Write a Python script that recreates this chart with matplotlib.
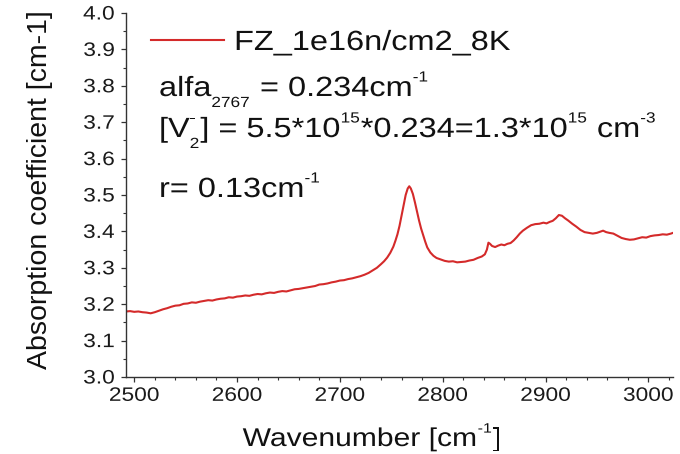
import matplotlib
matplotlib.use("Agg")
import matplotlib.pyplot as plt
import matplotlib.patheffects as pe
from matplotlib.path import Path
from matplotlib.ticker import MultipleLocator, FuncFormatter

plt.rcParams["font.family"] = ["Liberation Sans", "DejaVu Sans"]

# Spectrum: wavenumber [cm^-1] vs absorption coefficient [cm^-1]
wavenumber = [
    2492, 2496, 2500, 2504, 2508, 2512, 2516, 2520, 2524, 2528,
    2532, 2536, 2540, 2544, 2548, 2552, 2556, 2560, 2564, 2568,
    2572, 2576, 2580, 2584, 2588, 2592, 2596, 2600, 2604, 2608,
    2612, 2616, 2620, 2624, 2628, 2632, 2636, 2640, 2644, 2648,
    2652, 2656, 2660, 2664, 2668, 2672, 2676, 2680, 2684, 2688,
    2692, 2696, 2700, 2704, 2708, 2712, 2716, 2720, 2724, 2728,
    2732, 2736, 2740, 2743, 2746, 2749, 2752, 2754, 2756, 2758,
    2760, 2762, 2764, 2766, 2767.5, 2769, 2771, 2773, 2775, 2777,
    2779, 2781, 2783, 2785, 2788, 2791, 2794, 2798, 2802, 2806,
    2810, 2814, 2818, 2822, 2826, 2830, 2834, 2838, 2841, 2843,
    2844.5, 2846, 2848, 2851, 2854, 2857, 2860, 2863, 2866, 2869,
    2872, 2875, 2878, 2882, 2886, 2890, 2894, 2898, 2901, 2904,
    2907, 2910, 2913, 2916, 2919, 2922, 2926, 2930, 2934, 2938,
    2942, 2946, 2950, 2953, 2956, 2959, 2962, 2966, 2970, 2974,
    2978, 2982, 2986, 2990, 2994, 2998, 3002, 3006, 3010, 3014,
    3018, 3022, 3024,
]
absorption = [
    3.180, 3.181, 3.179, 3.180, 3.178, 3.177, 3.175, 3.178, 3.182, 3.186,
    3.189, 3.193, 3.196, 3.197, 3.201, 3.202, 3.205, 3.204, 3.207, 3.209,
    3.211, 3.210, 3.213, 3.215, 3.216, 3.219, 3.218, 3.221, 3.222, 3.224,
    3.223, 3.226, 3.228, 3.227, 3.230, 3.232, 3.231, 3.234, 3.236, 3.235,
    3.238, 3.241, 3.242, 3.244, 3.246, 3.248, 3.250, 3.254, 3.255, 3.257,
    3.260, 3.262, 3.265, 3.266, 3.269, 3.271, 3.274, 3.277, 3.281, 3.286,
    3.293, 3.300, 3.310, 3.318, 3.328, 3.341, 3.358, 3.374, 3.392, 3.415,
    3.443, 3.472, 3.500, 3.518, 3.524, 3.518, 3.503, 3.480, 3.455, 3.430,
    3.408, 3.390, 3.372, 3.356, 3.342, 3.333, 3.327, 3.323, 3.319, 3.317,
    3.318, 3.315, 3.316, 3.317, 3.320, 3.322, 3.327, 3.331, 3.337, 3.350,
    3.369, 3.366, 3.360, 3.357, 3.361, 3.364, 3.362, 3.366, 3.368, 3.375,
    3.384, 3.394, 3.402, 3.410, 3.417, 3.420, 3.421, 3.424, 3.422, 3.426,
    3.429, 3.436, 3.445, 3.443, 3.436, 3.430, 3.421, 3.413, 3.404, 3.398,
    3.396, 3.394, 3.396, 3.399, 3.402, 3.398, 3.396, 3.394, 3.388, 3.382,
    3.379, 3.377, 3.378, 3.381, 3.384, 3.383, 3.387, 3.389, 3.390, 3.392,
    3.391, 3.394, 3.396,
]

series_label = "FZ_1e16n/cm2_8K"
# rich-text runs: (text, role) with role "n" normal, "sub", "sup", "subsup"
note_alfa = [("alfa", "n"), ("2767", "sub"), (" = 0.234cm", "n"), ("-1", "sup")]
note_v2 = [("[V", "n"), (("2", "-"), "subsup"), ("] = 5.5*10", "n"),
           ("15", "sup"), ("*0.234=1.3*10", "n"), ("15", "sup"),
           (" cm", "n"), ("-3", "sup")]
note_r = [("r= 0.13cm", "n"), ("-1", "sup")]
x_label = [("Wavenumber [cm", "n"), ("-1", "sup"), ("]", "n")]
y_label = "Absorption coefficient [cm-1]"

W, H = 680, 454
SX = 1.17          # horizontal widening of the lettering
SCRIPT = 0.53      # script size relative to the base size
INK = "#111111"


class WideText(pe.AbstractPathEffect):
    """Draw glyph outlines widened horizontally about a chosen anchor."""

    def __init__(self, sx=SX, anchor="left"):
        super().__init__()
        self.sx = sx
        self.anchor = anchor

    def draw_path(self, renderer, gc, tpath, affine, rgbFace=None):
        v = tpath.vertices
        if len(v):
            xs = v[:, 0]
            if self.anchor == "left":
                x0 = 0.0
            elif self.anchor == "right":
                x0 = xs.max()
            else:
                x0 = 0.5 * (xs.min() + xs.max())
            nv = v.copy()
            nv[:, 0] = (xs - x0) * self.sx + x0
            tpath = Path(nv, tpath.codes)
        renderer.draw_path(gc, tpath, affine, rgbFace)


def rich_text(fig, runs, x_px, base_px, size, align="left"):
    """Lay out runs of normal/sub/superscript text along one baseline."""
    renderer = fig.canvas.get_renderer()
    scale = size / 20.0
    placed = []
    x = 0.0
    for text, role in runs:
        pieces = []
        if role == "n":
            pieces.append((text, size, 0.0))
        elif role == "sub":
            pieces.append((text, size * SCRIPT, -11.0 * scale))
        elif role == "sup":
            pieces.append((text, size * SCRIPT, 14.5 * scale))
        else:
            pieces.append((text[0], size * SCRIPT, -11.0 * scale))
            pieces.append((text[1], size * SCRIPT, 14.5 * scale))
        adv = 0.0
        for s, fs, dy in pieces:
            t = fig.text(0, 0, s, fontsize=fs, color=INK, va="baseline",
                         ha="left", path_effects=[WideText(anchor="left")])
            w = t.get_window_extent(renderer).width * SX
            placed.append((t, x, dy))
            adv = max(adv, w)
        x += adv + (1.0 if role != "n" else 0.0)
    start = x_px - (x / 2.0 if align == "center" else 0.0)
    for t, dx, dy in placed:
        t.set_position(((start + dx) / W, 1 - (base_px - dy) / H))


fig = plt.figure(figsize=(W / 100, H / 100), dpi=100)
# axes box in pixels: left 126, right 673, top 13, bottom 377
ax = fig.add_axes([126 / W, 1 - 377 / H, (673 - 126) / W, (377 - 13) / H])

ax.plot(wavenumber, absorption, color="#d42a2a", lw=1.5, label=series_label)

ax.set_xlim(2492, 3024)
ax.set_ylim(3.0, 4.0)
ax.xaxis.set_major_locator(MultipleLocator(100))
ax.xaxis.set_minor_locator(MultipleLocator(20))
ax.yaxis.set_major_locator(MultipleLocator(0.1))
ax.yaxis.set_minor_locator(MultipleLocator(0.05))
ax.yaxis.set_major_formatter(FuncFormatter(lambda v, p: f"{v:.1f}"))

for s in ("top", "right"):
    ax.spines[s].set_visible(False)
for s in ("left", "bottom"):
    ax.spines[s].set_color("#333333")
    ax.spines[s].set_linewidth(1.0)

ax.tick_params(which="major", direction="out", length=3.8, width=0.9,
               color="#333333", labelsize=14, labelcolor="#1a1a1a")
ax.tick_params(axis="x", which="major", pad=4)
ax.tick_params(axis="y", which="major", pad=4.3)
ax.tick_params(which="minor", direction="out", length=2.2, width=0.8,
               color="#333333")

ax.set_ylabel(y_label, fontsize=20.5, color=INK)
ax.yaxis.label.set_va("center")
ax.yaxis.set_label_coords((40 - 126) / 547, (377 - 190) / 364)

leg = ax.legend(loc="center left", bbox_to_anchor=(151 / W, 1 - 43 / H),
                bbox_transform=fig.transFigure, frameon=False, fontsize=20,
                handlelength=2.63, handletextpad=0.36, borderpad=0,
                borderaxespad=0)
for t in leg.get_texts():
    t.set_color(INK)
    t.set_path_effects([WideText(anchor="left")])

rich_text(fig, note_alfa, 159, 96, 20)
rich_text(fig, note_v2, 159, 137, 20)
rich_text(fig, note_r, 159, 197, 20)
rich_text(fig, x_label, 372, 446, 18.5, align="center")

fig.canvas.draw()
for lbl in ax.get_xticklabels():
    lbl.set_path_effects([WideText(anchor="center")])
for lbl in ax.get_yticklabels():
    lbl.set_path_effects([WideText(anchor="right")])

fig.savefig("out.png", dpi=100)
